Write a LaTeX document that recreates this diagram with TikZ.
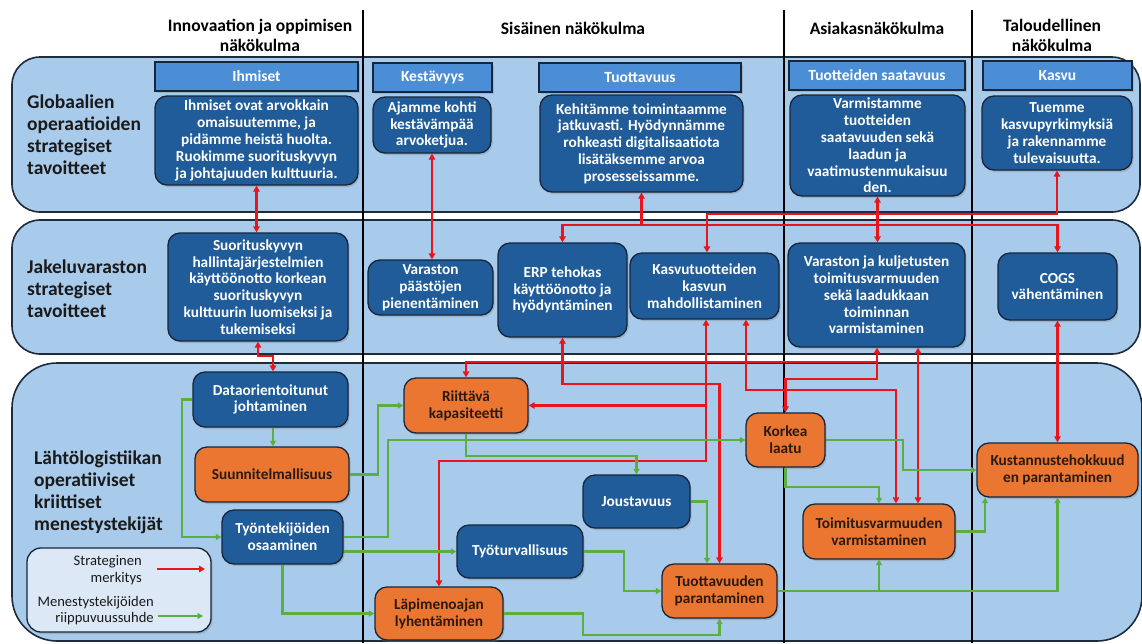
\documentclass[tikz,border=0pt]{standalone}
\usepackage{fontspec}
\setmainfont{Carlito}
\usetikzlibrary{arrows.meta,shadows}

\definecolor{bandfill}{HTML}{A8CAEB}
\definecolor{bandline}{HTML}{1E2B3A}
\definecolor{barfill}{HTML}{4B8ED6}
\definecolor{boxblue}{HTML}{1F5C99}
\definecolor{boxline}{HTML}{16263B}
\definecolor{boxorange}{HTML}{EB7631}
\definecolor{orangetext}{HTML}{2A1A10}
\definecolor{linkred}{HTML}{E8151B}
\definecolor{linkgreen}{HTML}{5BAF3E}
\definecolor{legendfill}{HTML}{DCE8F5}
\definecolor{labeltext}{HTML}{1A1A1A}

\tikzset{
  band/.style={draw=bandline, line width=1.6pt, fill=bandfill},
  colline/.style={draw=black, line width=1.8pt},
  sz/.style 2 args={minimum width=#1pt, minimum height=#2pt},
  boxshadow/.style={drop shadow={shadow xshift=1.5pt, shadow yshift=-2pt, opacity=0.35}},
  bar/.style={rectangle, draw=boxline, line width=1.2pt, fill=barfill, text=white,
    font=\bfseries\fontsize{15.5}{17}\selectfont, inner sep=0pt, boxshadow},
  bluebox/.style={rectangle, rounded corners=12pt, draw=boxline, line width=1.3pt,
    fill=boxblue, text=white, align=center, inner sep=0pt,
    font=\bfseries\fontsize{15.3}{16.8}\selectfont, boxshadow},
  orangebox/.style={bluebox, fill=boxorange, text=orangetext},
  heading/.style={align=center, text=black, inner sep=0pt,
    font=\bfseries\fontsize{17.5}{20}\selectfont},
  rowlabel/.style={align=left, anchor=west, text=labeltext, inner sep=0pt,
    font=\bfseries\fontsize{19.5}{22}\selectfont},
  legendtext/.style={align=right, anchor=east, text=labeltext, inner sep=0pt,
    font=\fontsize{14.6}{16.5}\selectfont},
  redline/.style={draw=linkred, line width=2.3pt},
  redboth/.style={redline, {Triangle[length=6pt,width=6.5pt]}-{Triangle[length=6pt,width=6.5pt]}},
  redto/.style={redline, -{Triangle[length=6pt,width=6.5pt]}},
  greento/.style={draw=linkgreen, line width=2.1pt, -{Triangle[length=5.5pt,width=6pt]}},
}

\begin{document}
\begin{tikzpicture}[x=1pt,y=-1pt]
\useasboundingbox (0,0) rectangle (1142,643);

% perspective bands
\path[band, rounded corners=28pt] (12,57) rectangle (1140,212);
\path[band, rounded corners=28pt] (12,220) rectangle (1140,354);
\path[band, rounded corners=45pt] (12,363) rectangle (1142,641);

% column separators
\draw[colline] (363,10) -- (363,643);
\draw[colline] (784,10) -- (784,643);
\draw[colline] (972,10) -- (972,643);

% column headings
\node[heading] (h1) at (260,35) {Innovaation ja oppimisen\\näkökulma};
\node[heading] (h2) at (573,28) {Sisäinen näkökulma};
\node[heading] (h3) at (877,28) {Asiakasnäkökulma};
\node[heading] (h4) at (1052,35) {Taloudellinen\\näkökulma};

% row labels
\node[rowlabel] (l1) at (27,135) {Globaalien\\operaatioiden\\strategiset\\tavoitteet};
\node[rowlabel] (l2) at (27,289) {Jakeluvaraston\\strategiset\\tavoitteet};
\node[rowlabel] (l3) at (34,492.5) {Lähtölogistiikan\\operatiiviset\\kriittiset\\menestystekijät};

% theme bars
\node[bar, sz={203}{29}] (b1) at (256.5,76.5) {Ihmiset};
\node[bar, sz={119}{29}] (b2) at (432.5,77.5) {Kestävyys};
\node[bar, sz={202}{29}] (b3) at (640,77.5) {Tuottavuus};
\node[bar, sz={176}{29}] (b4) at (877,75.5) {Tuotteiden saatavuus};
\node[bar, sz={149}{29}] (b5) at (1057.5,75.5) {Kasvu};

% global goals
\node[bluebox, sz={203}{89}] (G1) at (256.5,140.5) {Ihmiset ovat arvokkain\\omaisuutemme, ja\\pidämme heistä huolta.\\Ruokimme suorituskyvyn\\ja johtajuuden kulttuuria.};
\node[bluebox, sz={118}{56}] (G2) at (432,125) {Ajamme kohti\\kestävämpää\\arvoketjua.};
\node[bluebox, sz={203}{97}] (G3) at (641.5,143.5) {Kehitämme toimintaamme\\jatkuvasti. Hyödynnämme\\rohkeasti digitalisaatiota\\lisätäksemme arvoa\\prosesseissamme.};
\node[bluebox, sz={175}{101}] (G4) at (877.5,145.5) {Varmistamme\\tuotteiden\\saatavuuden sekä\\laadun ja\\vaatimustenmukaisuu\\den.};
\node[bluebox, sz={150}{74}] (G5) at (1057,133) {Tuemme\\kasvupyrkimyksiä\\ja rakennamme\\tulevaisuutta.};

% distribution centre goals
\node[bluebox, sz={180}{108}] (J1) at (258,287) {Suorituskyvyn\\hallintajärjestelmien\\käyttöönotto korkean\\suorituskyvyn\\kulttuurin luomiseksi ja\\tukemiseksi};
\node[bluebox, sz={125}{55}] (J2) at (430.5,287.5) {Varaston\\päästöjen\\pienentäminen};
\node[bluebox, sz={129}{94}] (J3) at (562.5,290) {ERP tehokas\\käyttöönotto ja\\hyödyntäminen};
\node[bluebox, sz={149}{66}] (J4) at (704.5,286) {Kasvutuotteiden\\kasvun\\mahdollistaminen};
\node[bluebox, sz={177}{104}] (J5) at (876.5,295) {Varaston ja kuljetusten\\toimitusvarmuuden\\sekä laadukkaan\\toiminnan\\varmistaminen};
\node[bluebox, sz={119}{67}] (J6) at (1057.5,286.5) {COGS\\vähentäminen};

% critical success factors
\node[bluebox, sz={155}{55}] (D) at (270.5,399.5) {Dataorientoitunut\\johtaminen};
\node[orangebox, sz={154}{55}] (S) at (272,474.5) {Suunnitelmallisuus};
\node[bluebox, sz={121}{54}] (T) at (282.5,537) {Työntekijöiden\\osaaminen};
\node[orangebox, sz={124}{55}] (R) at (466,405.5) {Riittävä\\kapasiteetti};
\node[orangebox, sz={79}{54}] (K) at (785.5,440) {Korkea\\laatu};
\node[bluebox, sz={107}{53}] (Jo) at (636.5,501.5) {Joustavuus};
\node[bluebox, sz={126}{53}] (TT) at (520,551.5) {Työturvallisuus};
\node[orangebox, sz={115}{54}] (TP) at (719.5,591) {Tuottavuuden\\parantaminen};
\node[orangebox, sz={128}{53}] (L) at (439,613.5) {Läpimenoajan\\lyhentäminen};
\node[orangebox, sz={152}{55}] (TV) at (879,531.5) {Toimitusvarmuuden\\varmistaminen};
\node[orangebox, sz={161}{54}] (KU) at (1057.5,470) {Kustannustehokkuud\\en parantaminen};

% strategic links (red)
\draw[redboth] (G1.south) -- (G1.south |- J1.north);
\draw[redboth] (J1.south) -- (258,356) -| (D.north -| 273,0);
\draw[redboth] (G2.south) -- (G2.south |- J2.north);
\draw[redboth] (G3.south) -- (G3.south |- 0,225) -| (J3.north);
\draw[redto] (G3.south |- 0,225) -| (J6.north);
\draw[redboth] (G5.south) -- (G5.south |- 0,214) -| (J4.north -| 707,0);
\draw[redboth] (G4.south) -- (G4.south |- J5.north);
\draw[redboth] (J3.south) -- (J3.south |- 0,384) -| (TP.north);
\draw[redboth] (J4.south -| 706,0) -- (706,461) -| (L.north);
\draw[redto] (R.east -| 706,0) -- (R.east);
\draw[redboth] (J4.south -| 746,0) -- (746,390) -| (TV.north -| 896,0);
\draw[redboth] (J5.south -| 877,0) -- (877,362) -| (R.north);
\draw[redto] (877,362) -- (877,379) -| (K.north);
\draw[redboth] (J5.south -| 918,0) -- (TV.north -| 918,0);
\draw[redboth] (J6.south) -- (J6.south |- KU.north);

% dependency links (green)
\draw[greento] (D.west) -- ++(-10,0) |- (T.west);
\draw[greento] (D.south -| 273,0) -- (S.north -| 273,0);
\draw[greento] (S.east) -- ++(28,0) |- (R.west);
\draw[greento] (T.east) -- (388,537) |- (K.west);
\draw[greento] (TT.west -| T.east) -- (TT.west);
\draw[greento] (T.south) |- (L.west);
\draw[greento] (R.south) -- ++(0,22) -| (Jo.north);
\draw[greento] (Jo.east) -| (TP.north -| 707,0);
\draw[greento] (TT.east) -- ++(40,0) |- (TP.west);
\draw[greento] (L.east) -| (583,635) -| (TP.south);
\draw[greento] (K.east) -- ++(77,0) |- (KU.west);
\draw[greento] (K.south) -- ++(0,19) -| (TV.north);
\draw[greento] (TV.east) -| (KU.south -| 985,0);
\draw[greento] (TP.east) -| (KU.south);
\draw[greento] (TV.south |- TP.east) -- (TV.south);

% legend
\node[rectangle, rounded corners=14pt, draw=boxline, line width=1.3pt, fill=legendfill,
  sz={184}{84}, boxshadow] (legend) at (119,590) {};
\node[legendtext] (lt1) at (142,570) {Strateginen\\merkitys};
\node[legendtext] (lt2) at (154,610.5) {Menestystekijöiden\\riippuvuussuhde};
\coordinate (lr1) at (157,569);
\coordinate (lr2) at (205,569);
\coordinate (lg1) at (158,616);
\coordinate (lg2) at (203,616);
\draw[redto] (lr1) -- (lr2);
\draw[greento] (lg1) -- (lg2);
\end{tikzpicture}
\end{document}
